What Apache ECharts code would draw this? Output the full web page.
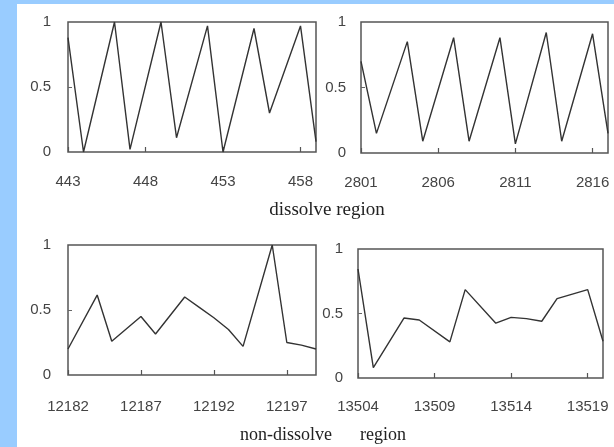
<!DOCTYPE html>
<html>
<head>
<meta charset="utf-8">
<script src="https://cdn.jsdelivr.net/npm/echarts@6/dist/echarts.min.js"></script>
<style>
html,body{margin:0;padding:0;background:#fff;}
#c{width:614px;height:447px;}
</style>
</head>
<body>
<div id="c"></div>
<script>
// Panel 1: dissolve region, frames 443-459
const p1X = [443, 444, 446, 447, 449, 450, 452, 453, 455, 456, 458, 459];
const p1Y = [0.88, 0.0, 1.0, 0.02, 1.0, 0.11, 0.97, 0.0, 0.95, 0.30, 0.97, 0.08];
const p1Ticks = [443, 448, 453, 458];
// Panel 2: dissolve region, frames 2801-2817
const p2X = [2801, 2802, 2804, 2805, 2807, 2808, 2810, 2811, 2813, 2814, 2816, 2817];
const p2Y = [0.70, 0.15, 0.85, 0.09, 0.88, 0.09, 0.88, 0.07, 0.92, 0.09, 0.91, 0.15];
const p2Ticks = [2801, 2806, 2811, 2816];
// Panel 3: non-dissolve region, frames 12182-12199
const p3X = [12182, 12184, 12185, 12187, 12188, 12190, 12191, 12192, 12193, 12194, 12196, 12197, 12198, 12199];
const p3Y = [0.20, 0.615, 0.26, 0.45, 0.315, 0.60, 0.52, 0.44, 0.35, 0.22, 1.0, 0.25, 0.23, 0.20];
const p3Ticks = [12182, 12187, 12192, 12197];
// Panel 4: non-dissolve region, frames 13504-13520
const p4X = [13504, 13505, 13507, 13508, 13510, 13511, 13513, 13514, 13515, 13516, 13517, 13518, 13519, 13520];
const p4Y = [0.845, 0.08, 0.465, 0.45, 0.28, 0.685, 0.425, 0.47, 0.46, 0.44, 0.615, 0.65, 0.685, 0.285];
const p4Ticks = [13504, 13509, 13514, 13519];
const yTicks = [0, 0.5, 1];
const title1 = 'dissolve region';
const title2a = 'non-dissolve';
const title2b = 'region';

const panels = [
  {x: p1X, y: p1Y, ticks: p1Ticks, min: 443, max: 459, grid: {left: 68, top: 22, width: 248, height: 130}, lm: 22, ym: 17},
  {x: p2X, y: p2Y, ticks: p2Ticks, min: 2801, max: 2817, grid: {left: 361, top: 22, width: 247, height: 131}, lm: 22, ym: 15},
  {x: p3X, y: p3Y, ticks: p3Ticks, min: 12182, max: 12199, grid: {left: 68, top: 245, width: 248, height: 130}, lm: 24, ym: 17},
  {x: p4X, y: p4Y, ticks: p4Ticks, min: 13504, max: 13520, grid: {left: 358, top: 249, width: 245, height: 129}, lm: 21, ym: 15}
];

const labelFont = {fontFamily: 'Liberation Sans', fontSize: 15, color: '#444'};

const option = {
  backgroundColor: '#fff',
  animation: false,
  grid: panels.map(p => Object.assign({show: true, borderColor: '#555', borderWidth: 1.5, backgroundColor: 'transparent'}, p.grid)),
  xAxis: panels.map((p, i) => ({
    type: 'value', gridIndex: i, min: p.min, max: p.max,
    axisLine: {show: false},
    splitLine: {show: false},
    axisTick: {show: true, inside: true, length: 5, customValues: p.ticks, lineStyle: {color: '#555', width: 1.2}},
    axisLabel: Object.assign({customValues: p.ticks, margin: p.lm, showMinLabel: true, showMaxLabel: true, formatter: v => String(v)}, labelFont)
  })),
  yAxis: panels.map((p, i) => ({
    type: 'value', gridIndex: i, min: 0, max: 1,
    axisLine: {show: false},
    splitLine: {show: false},
    axisTick: {show: true, inside: true, length: 4, customValues: [0.5], lineStyle: {color: '#666', width: 1}},
    axisLabel: Object.assign({customValues: yTicks, margin: p.ym, formatter: v => String(v)}, labelFont)
  })),
  series: panels.map((p, i) => ({
    type: 'line', xAxisIndex: i, yAxisIndex: i,
    symbol: 'none', silent: true,
    lineStyle: {color: '#333', width: 1.4},
    data: p.x.map((xv, k) => [xv, p.y[k]])
  })),
  graphic: [
    {type: 'rect', shape: {x: 0, y: 0, width: 17, height: 447}, style: {fill: '#99ccff'}},
    {type: 'rect', shape: {x: 0, y: 0, width: 614, height: 4}, style: {fill: '#99ccff'}},
    {type: 'text', x: 327, y: 210, style: {text: title1, font: '19px "Liberation Serif"', fill: '#222', align: 'center', verticalAlign: 'middle'}},
    {type: 'text', x: 240, y: 435, style: {text: title2a, font: '18px "Liberation Serif"', fill: '#222', align: 'left', verticalAlign: 'middle'}},
    {type: 'text', x: 360, y: 435, style: {text: title2b, font: '18px "Liberation Serif"', fill: '#222', align: 'left', verticalAlign: 'middle'}}
  ]
};

const chart = echarts.init(document.getElementById('c'), null, {renderer: 'canvas'});
chart.setOption(option);
</script>
</body>
</html>
